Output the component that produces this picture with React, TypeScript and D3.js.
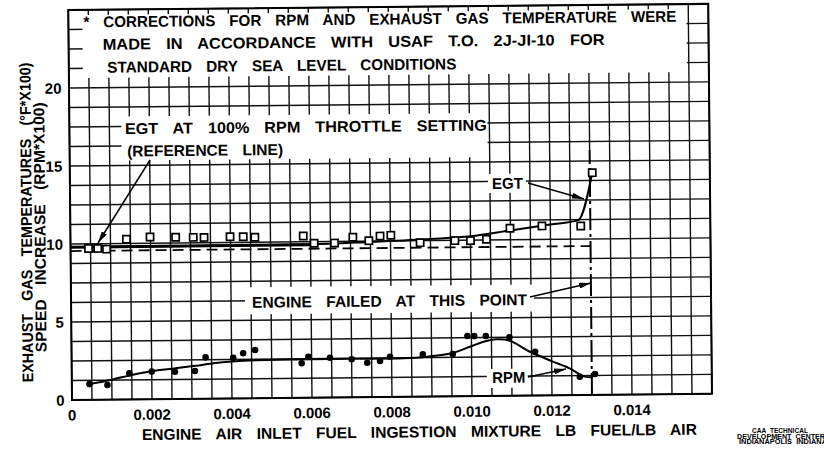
import React from 'react';
import * as d3 from 'd3';

// ---------- data ----------
const X_TICKS = [0, 0.002, 0.004, 0.006, 0.008, 0.01, 0.012, 0.014];
const X_TICK_LABELS = ['0', '0.002', '0.004', '0.006', '0.008', '0.010', '0.012', '0.014'];
const Y_TICKS = [0, 5, 10, 15, 20];
const Y_TICK_LABELS = ['0', '5', '10', '15', '20'];

// Exhaust gas temperature (open squares)
const EGT_X = [0.00045, 0.00068, 0.0009, 0.0014, 0.00199, 0.00263, 0.00307, 0.00334, 0.00399, 0.00432, 0.00461,
  0.00582, 0.00609, 0.0066, 0.00706, 0.00746, 0.00774, 0.00801, 0.00874, 0.00961, 0.01, 0.0104, 0.01099, 0.01179,
  0.01276, 0.01306];
const EGT_Y = [9.7, 9.7, 9.65, 10.27, 10.4, 10.37, 10.35, 10.34, 10.37, 10.36, 10.32,
  10.37, 9.9, 9.9, 10.26, 10.03, 10.32, 10.36, 9.87, 9.98, 9.97, 10.05, 10.74, 10.87,
  10.84, 14.25];
// EGT faired curve
const EGT_CURVE_X = [0.0004, 0.002, 0.004, 0.006, 0.0075, 0.009, 0.01, 0.011, 0.012, 0.0127, 0.01306];
const EGT_CURVE_Y = [9.8, 9.8, 9.8, 9.83, 9.95, 10.1, 10.25, 10.6, 10.95, 11.22, 14.25];

// RPM speed increase (filled dots)
const RPM_X = [0.00044, 0.00089, 0.00144, 0.002, 0.00258, 0.00308, 0.00335, 0.00404, 0.00429, 0.00459,
  0.00575, 0.00592, 0.00646, 0.007, 0.00739, 0.00771, 0.00796, 0.00878, 0.00953, 0.0099, 0.01007, 0.01036,
  0.01095, 0.01159, 0.0127, 0.01308];
const RPM_Y = [1.01, 0.94, 1.68, 1.77, 1.75, 1.78, 2.65, 2.61, 2.89, 3.09,
  2.21, 2.63, 2.55, 2.44, 2.21, 2.31, 2.58, 2.71, 2.71, 3.86, 3.85, 3.85,
  3.75, 2.81, 1.18, 1.34];
const RPM_CURVE_X = [0.00044, 0.001, 0.0015, 0.002, 0.0026, 0.0031, 0.0036, 0.0041, 0.0046, 0.0052, 0.006, 0.007,
  0.0083, 0.0089, 0.0095, 0.00996, 0.0103, 0.01063, 0.01096, 0.01146, 0.012, 0.01246, 0.0128, 0.01303];
const RPM_CURVE_Y = [1.01, 1.28, 1.57, 1.8, 1.97, 2.12, 2.28, 2.38, 2.43, 2.46, 2.46, 2.47,
  2.47, 2.56, 2.76, 3.17, 3.48, 3.63, 3.53, 2.81, 2.2, 1.71, 1.2, 1.13];

// Reference lines
const REF_SOLID_X = [0, 0.006];
const REF_SOLID_Y = [9.8, 9.8];
const REF_DASH_X = [0, 0.013];
const REF_DASH_Y = [9.55, 9.55];
const FAIL_X = 0.013;
const FAIL_Y = [0, 15.7];

const NOTE_LINES = [
  '* CORRECTIONS FOR RPM AND EXHAUST GAS TEMPERATURE WERE',
  'MADE IN ACCORDANCE WITH USAF T.O. 2J-JI-10 FOR',
  'STANDARD DRY SEA LEVEL CONDITIONS',
];
const REF_LABEL = ['EGT AT 100% RPM THROTTLE SETTING', '(REFERENCE LINE)'];
const FAIL_LABEL = 'ENGINE FAILED AT THIS POINT';
const X_TITLE = 'ENGINE AIR INLET FUEL INGESTION MIXTURE LB FUEL/LB AIR';
const Y_TITLE = ['EXHAUST GAS TEMPERATURES (°F*X100)', 'SPEED INCREASE (RPM*X100)'];
const FOOTER = ['CAA TECHNICAL', 'DEVELOPMENT CENTER', 'INDIANAPOLIS INDIANA'];

const FONT = '"Liberation Sans", Arial, sans-serif';

function Lettering(props: {
  x: number; y: number; w: number; text: string; size?: number; anchor?: string; rot?: number; ws?: number;
}) {
  const { x, y, w, text, size = 15.5, anchor = 'start', rot = 0, ws = 10 } = props;
  return (
    <text
      x={x}
      y={y}
      textLength={w}
      lengthAdjust="spacingAndGlyphs"
      fontSize={size}
      fontWeight="bold"
      fontFamily={FONT}
      textAnchor={anchor}
      fill="#000"
      style={{ wordSpacing: `${ws}px` }}
      transform={rot ? `rotate(${rot},${x},${y})` : undefined}
    >
      {text}
    </text>
  );
}

export default function App() {
  const W = 824, H = 450;
  const L = 72, R = 712, T = 10, B = 400;
  const x = d3.scaleLinear().domain([0, 0.016]).range([L, R]);
  const y = d3.scaleLinear().domain([0, 25]).range([B, T]);
  const ANG = -0.55; // scanned sheet is slightly tilted
  const a = (-ANG * Math.PI) / 180;
  const unrot = (X: number, Y: number): [number, number] => {
    const dx = X - L, dy = Y - B;
    return [L + dx * Math.cos(a) - dy * Math.sin(a), B + dx * Math.sin(a) + dy * Math.cos(a)];
  };

  const vGrid = d3.range(0, 0.016 + 1e-9, 0.0005);
  const hGrid = d3.range(0, 25 + 1e-9, 1.25);

  const mkLine = (xs: number[], ys: number[], curve: any) =>
    d3.line<number>().x((i) => x(xs[i])).y((i) => y(ys[i])).curve(curve)(xs.map((_, i) => i)) || '';

  const egtPath = mkLine(EGT_CURVE_X, EGT_CURVE_Y, d3.curveMonotoneX);
  const rpmPath = mkLine(RPM_CURVE_X, RPM_CURVE_Y, d3.curveCatmullRom.alpha(0.5));
  const refSolid = mkLine(REF_SOLID_X, REF_SOLID_Y, d3.curveLinear);
  const refDash = mkLine(REF_DASH_X, REF_DASH_Y, d3.curveLinear);

  const masks = [
    [86, 15, 690, 78],
    [124, 117, 490, 161],
    [246, 289, 535, 316],
    [490, 178, 528, 197],
    [487, 373, 528, 392],
  ];

  const arrows: [number, number, number, number][] = [
    [150, 160, 98, 243],
    [528, 183, 584, 199],
    [530, 297, 591, 283],
    [528, 377, 566, 369],
  ];

  return (
    <svg width={W} height={H} style={{ position: 'absolute', left: 0, top: 0, background: '#fff' }}>
      <defs>
        <marker id="ah" viewBox="0 0 12 6" refX="12" refY="3" markerWidth="12" markerHeight="6"
          orient="auto" markerUnits="userSpaceOnUse">
          <path d="M0,0 L12,3 L0,6 z" fill="#000" />
        </marker>
      </defs>
      <rect x={0} y={0} width={W} height={H} fill="#fff" />
      <g transform={`rotate(${ANG},${L},${B})`}>
        {/* grid */}
        <g stroke="#111" strokeWidth={1.4}>
          {vGrid.map((v, i) => (
            <line key={'v' + i} x1={x(v)} x2={x(v)} y1={T}
              y2={Math.abs(v - FAIL_X) < 1e-9 ? y(FAIL_Y[1]) : B} />
          ))}
          {hGrid.map((v, i) => (
            <line key={'h' + i} x1={L} x2={R} y1={y(v)} y2={y(v)} />
          ))}
        </g>
        {/* label masks */}
        {masks.map((m, i) => (
          <rect key={'m' + i} x={m[0]} y={m[1]} width={m[2] - m[0]} height={m[3] - m[1]} fill="#fff" />
        ))}
        {/* border */}
        <rect x={L} y={T} width={R - L} height={B - T} fill="none" stroke="#000" strokeWidth={2} />

        {/* reference lines */}
        <path d={refDash} fill="none" stroke="#000" strokeWidth={1.8} strokeDasharray="11 6" />
        <path d={refSolid} fill="none" stroke="#000" strokeWidth={3} />
        <line x1={x(FAIL_X)} x2={x(FAIL_X)} y1={y(FAIL_Y[0])} y2={y(FAIL_Y[1])}
          stroke="#000" strokeWidth={2} strokeDasharray="22 4 3 4" />

        {/* curves */}
        <path d={egtPath} fill="none" stroke="#000" strokeWidth={2} />
        <path d={rpmPath} fill="none" stroke="#000" strokeWidth={2} />

        {/* points */}
        {EGT_X.map((v, i) => (
          <rect key={'e' + i} x={x(v) - 3.6} y={y(EGT_Y[i]) - 3.6} width={7.2} height={7.2}
            fill="#fff" stroke="#000" strokeWidth={1.7} />
        ))}
        {RPM_X.map((v, i) => (
          <circle key={'r' + i} cx={x(v)} cy={y(RPM_Y[i])} r={3.3} fill="#000" />
        ))}

        {/* arrows */}
        {arrows.map((ar, i) => {
          const p0 = unrot(ar[0], ar[1]);
          const p1 = unrot(ar[2], ar[3]);
          return (
            <line key={'a' + i} x1={p0[0]} y1={p0[1]} x2={p1[0]} y2={p1[1]} stroke="#000"
              strokeWidth={1.5} markerEnd="url(#ah)" />
          );
        })}

        {/* ticks labels */}
        {X_TICKS.map((v, i) => (
          <text key={'xt' + i} x={x(v)} y={420.5} textAnchor="middle" fontSize={15} fontWeight="bold"
            fontFamily={FONT}>{X_TICK_LABELS[i]}</text>
        ))}
        {Y_TICKS.map((v, i) => (
          <text key={'yt' + i} x={64.5} y={y(v) + 5.5} textAnchor="end" fontSize={15} fontWeight="bold"
            fontFamily={FONT}>{Y_TICK_LABELS[i]}</text>
        ))}

        {/* annotation text */}
        <Lettering x={87} y={27.5} w={593} text={NOTE_LINES[0]} />
        <Lettering x={106} y={50} w={502} text={NOTE_LINES[1]} />
        <Lettering x={110.5} y={73} w={349} text={NOTE_LINES[2]} />
        <Lettering x={127.5} y={134.5} w={362} text={REF_LABEL[0]} />
        <Lettering x={129.5} y={157} w={156} text={REF_LABEL[1]} />
        <Lettering x={253} y={309.5} w={275} text={FAIL_LABEL} />
        <Lettering x={494} y={193} w={31} text="EGT" />
        <Lettering x={492.5} y={387} w={33} text="RPM" />

        {/* axis titles */}
        <Lettering x={141.6} y={440.7} w={555} text={X_TITLE} />
        <Lettering x={33.5} y={222} w={320} text={Y_TITLE[0]} anchor="middle" rot={-90} />
        <Lettering x={47} y={227} w={250} text={Y_TITLE[1]} anchor="middle" rot={-90} />
      </g>

      {/* footer stamp */}
      <Lettering x={780} y={433} w={56} text={FOOTER[0]} size={6.5} anchor="middle" ws={2} />
      <Lettering x={781} y={438.6} w={88} text={FOOTER[1]} size={6.5} anchor="middle" ws={2} />
      <Lettering x={783} y={444.2} w={88} text={FOOTER[2]} size={6.5} anchor="middle" ws={2} />
    </svg>
  );
}
